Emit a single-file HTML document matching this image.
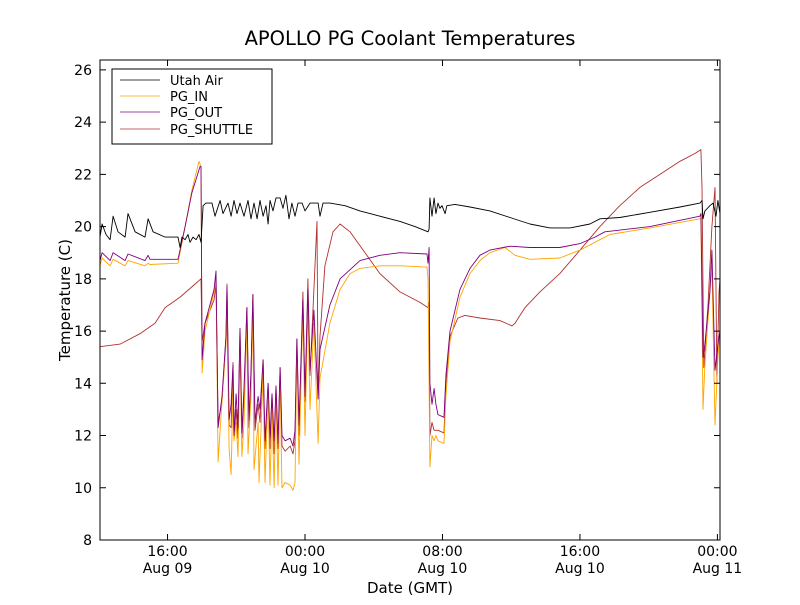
<!DOCTYPE html>
<html><head><meta charset="utf-8"><style>
body{margin:0;background:#fff;}
svg{font-family:"DejaVu Sans","Liberation Sans",sans-serif;}
</style></head><body>
<svg id="chart" width="800" height="600" viewBox="0 0 800 600">
<rect width="800" height="600" fill="#fff"/>
<text x="410" y="45" font-size="19.5" text-anchor="middle">APOLLO PG Coolant Temperatures</text>
<g id="series"></g>
<rect x="100" y="60" width="620" height="480" fill="none" stroke="#000" stroke-width="1"/>
<g id="axes"></g>
<text x="70" y="300" font-size="15" text-anchor="middle" transform="rotate(-90 70 300)">Temperature (C)</text>
<text x="410" y="593" font-size="15" text-anchor="middle">Date (GMT)</text>
<g>
<rect x="112" y="69" width="160" height="75" fill="#fff" stroke="#000" stroke-width="1"/>
<line x1="120" y1="80" x2="160" y2="80" stroke="#000" stroke-width="0.8"/>
<text x="170" y="85" font-size="13">Utah Air</text>
<line x1="120" y1="96" x2="160" y2="96" stroke="#FFA500" stroke-width="0.8"/>
<text x="170" y="101" font-size="13">PG_IN</text>
<line x1="120" y1="112" x2="160" y2="112" stroke="#800080" stroke-width="0.8"/>
<text x="170" y="117" font-size="13">PG_OUT</text>
<line x1="120" y1="129" x2="160" y2="129" stroke="#B03030" stroke-width="0.8"/>
<text x="170" y="134" font-size="13">PG_SHUTTLE</text>
</g>
</svg>
<script>
// hours relative to Aug 10 00:00 GMT
const yTicks=[8,10,12,14,16,18,20,22,24,26];
const xTicks=[-8,0,8,16,24];
const xTickTimes=["16:00","00:00","08:00","16:00","00:00"];
const xTickDates=["Aug 09","Aug 10","Aug 10","Aug 10","Aug 11"];
const utahT=[-11.93,-11.81,-11.58,-11.34,-11.17,-10.88,-10.47,-10.3,-9.89,-9.31,-9.13,-8.84,-8.14,-7.39,-7.27,-7.16,-6.98,-6.81,-6.69,-6.52,-6.34,-6.17,-6.05,-5.93,-5.76,-5.41,-5.24,-4.94,-4.77,-4.48,-4.3,-4.13,-3.96,-3.78,-3.55,-3.32,-3.14,-2.97,-2.79,-2.62,-2.44,-2.27,-2.15,-2.04,-1.86,-1.69,-1.45,-1.28,-1.11,-0.93,-0.76,-0.58,-0.41,-0.17,0,0.29,0.76,0.87,1.05,1.45,2.33,3.2,4.36,5.53,6.4,7.16,7.22,7.27,7.39,7.51,7.62,7.74,7.85,7.97,8.15,8.26,8.73,9.6,10.76,11.93,13.09,14.26,15.42,16.58,17.16,18.32,20.07,21.82,22.98,23.1,23.16,23.27,23.56,23.74,23.92,24.03,24.15];
const utahV=[19.6,20.1,19.7,19.5,20.4,19.8,19.6,20.5,19.8,19.6,20.3,19.8,19.6,19.6,19.2,19.6,19.5,19.7,19.4,19.6,19.5,19.7,19.4,20.8,20.9,20.9,20.4,21,20.5,20.9,20.4,21,20.5,20.9,20.4,21,20.3,20.9,20.3,21,20.4,20.8,20.1,21,20.6,21.1,21.1,20.7,21.2,20.3,20.9,20.4,20.9,20.9,20.6,20.9,20.9,20.4,20.9,20.9,20.8,20.6,20.4,20.2,20.0,19.8,19.9,21.1,20.4,21.1,20.5,20.9,20.7,20.8,20.5,20.8,20.85,20.75,20.6,20.35,20.1,19.95,19.95,20.1,20.3,20.35,20.55,20.75,20.9,21.0,20.3,20.6,20.8,20.9,20.4,21,20.5];
const outT=[-11.93,-11.81,-11.34,-11.17,-10.47,-10.3,-9.31,-9.13,-9.02,-7.39,-6.98,-6.58,-6.11,-6.05,-5.99,-5.82,-5.29,-5.18,-5.06,-4.83,-4.6,-4.54,-4.42,-4.3,-4.19,-4.13,-4.01,-3.9,-3.78,-3.67,-3.55,-3.38,-3.26,-3.14,-3.03,-2.91,-2.73,-2.62,-2.44,-2.33,-2.15,-2.04,-1.92,-1.8,-1.69,-1.57,-1.45,-1.34,-1.16,-0.87,-0.7,-0.58,-0.47,-0.35,-0.12,0,0.17,0.29,0.52,0.76,0.87,1.45,2.04,3.2,4.36,5.53,7.1,7.16,7.22,7.27,7.39,7.51,7.62,7.74,8.09,8.2,8.44,9.02,9.6,10.18,10.76,11.93,13.09,14.83,16,16.87,17.45,20.07,22.98,23.04,23.16,23.27,23.56,23.68,23.86,24.03,24.15];
const outV=[18.7,19.0,18.7,19.0,18.7,18.95,18.7,18.9,18.75,18.75,20.0,21.3,22.3,22.3,14.9,16.3,17.6,18.3,12.3,13.5,15.8,17.7,12.6,13.2,14.7,12,13.6,12.3,16.1,12.1,13.8,16.9,12.6,14.5,17.4,12.5,13.5,13,14.9,11.8,14,11.9,13.6,11.8,13.9,11.7,14.6,12,11.8,11.9,11.6,12.2,15.7,12.4,17.2,13.5,17.6,14.5,16.8,13.4,15.3,17,18,18.7,18.9,19.0,18.95,18.6,19.2,14,13.2,13.8,13.2,12.8,12.7,14.3,16.0,17.6,18.4,18.9,19.1,19.25,19.2,19.2,19.35,19.6,19.8,20.0,20.4,20.5,15,15.5,17.5,19.1,14.5,15.5,16];
const inT=[-11.93,-11.81,-11.34,-11.17,-10.47,-10.3,-9.31,-9.13,-9.02,-7.39,-6.98,-6.58,-6.17,-6.05,-5.99,-5.82,-5.29,-5.18,-5.06,-4.83,-4.6,-4.54,-4.42,-4.3,-4.19,-4.13,-4.01,-3.9,-3.78,-3.67,-3.55,-3.38,-3.32,-3.14,-3.03,-2.97,-2.73,-2.68,-2.44,-2.33,-2.15,-2.04,-1.92,-1.8,-1.69,-1.57,-1.45,-1.34,-1.16,-0.87,-0.7,-0.58,-0.47,-0.35,-0.12,0,0.17,0.29,0.52,0.76,0.87,1.45,2.04,2.62,3.2,4.36,5.53,7.1,7.16,7.27,7.39,7.51,7.62,7.74,8.09,8.2,8.44,9.02,9.6,10.18,10.76,11.64,12.22,13.09,14.83,16,17.16,17.74,20.07,22.98,23.04,23.16,23.27,23.56,23.68,23.86,24.03,24.15];
const inV=[18.5,18.8,18.5,18.75,18.5,18.7,18.5,18.6,18.55,18.6,20,21.4,22.5,22.3,14.4,16,17.5,18,11,13.3,15.5,16.5,11.5,10.5,13.8,11.8,12.5,11.2,15.5,11.2,12.5,16.5,11.3,13.5,17,10.7,12.5,10.2,14.4,10.2,13.6,10.1,13,10,13.5,10.1,14,10,10.2,10.1,9.9,10.2,15.3,10.9,16.8,12,17,13,16.3,11.7,14.2,16.3,17.6,18.2,18.4,18.5,18.5,18.45,18,10.8,12,11.8,12,11.8,11.7,13.5,15.6,17.3,18.2,18.7,19.0,19.2,18.9,18.75,18.8,19.1,19.5,19.7,19.95,20.3,20.3,13,14.7,17.5,18.5,12.4,15,16];
const shT=[-11.93,-10.76,-9.6,-8.73,-8.14,-7.27,-6.4,-6.05,-5.99,-5.82,-5.29,-5.18,-5.06,-4.83,-4.6,-4.54,-4.42,-4.3,-4.19,-4.13,-4.01,-3.9,-3.78,-3.67,-3.55,-3.38,-3.26,-3.14,-3.03,-2.91,-2.73,-2.62,-2.44,-2.33,-2.15,-2.04,-1.92,-1.8,-1.69,-1.57,-1.45,-1.34,-1.16,-0.87,-0.7,-0.58,-0.47,-0.35,-0.12,0,0.17,0.29,0.7,0.76,0.87,1.16,1.63,2.04,2.62,3.49,4.36,5.53,6.69,7.16,7.22,7.27,7.39,7.51,7.74,8.09,8.2,8.44,8.9,9.31,10.18,11.34,12.05,12.22,12.8,13.67,14.83,16,17.16,18.32,19.49,20.65,21.82,22.69,23.04,23.1,23.21,23.45,23.68,23.86,23.97,24.09,24.15];
const shV=[15.4,15.5,15.9,16.3,16.9,17.3,17.8,18,15.6,16.3,17.2,17.8,12.5,13.3,15.8,17.8,12.4,12.3,14.8,11.9,13,11.9,16.1,11.9,13.5,16.9,12.3,14.3,17.4,12.2,13.2,12.5,14.9,11.5,14,11.5,13.6,11.3,13.9,11.5,14.6,11.6,11.4,11.6,11.3,11.8,15.7,12,17.5,13.3,18,14.3,20.2,13.4,15.8,18.5,19.8,20.1,19.8,19,18.2,17.5,17.1,16.9,17.1,12,12.5,12.2,12.2,12.1,14,15.8,16.5,16.6,16.5,16.4,16.2,16.3,16.9,17.5,18.2,19.1,20,20.8,21.5,22,22.5,22.8,22.95,21.5,14.6,17,20,21.5,14,17.5,18];

const X0=100,X1=720,Y0=60,Y1=540,TMIN=-11.93,TMAX=24.15,VMIN=8,VMAX=26.38;
const xs=t=>X0+(t-TMIN)/(TMAX-TMIN)*(X1-X0);
const ys=v=>Y1-(v-VMIN)/(VMAX-VMIN)*(Y1-Y0);
const NS="http://www.w3.org/2000/svg";
const axes=document.getElementById('axes');
const ser=document.getElementById('series');
function mk(tag,attrs,parent){const e=document.createElementNS(NS,tag);for(const k in attrs)e.setAttribute(k,attrs[k]);parent.appendChild(e);return e;}
yTicks.forEach(v=>{
  const y=ys(v);
  const l=mk('path',{d:`M${X0} ${y}h6M${X1} ${y}h-6`,stroke:'#000','stroke-width':1},axes);
  
  
  const t=mk('text',{x:X0-8,y:y+5,'font-size':14,'text-anchor':'end'},axes);
  t.textContent=v;
  
  
});
xTicks.forEach((h,i)=>{
  const x=xs(h);
  const l=mk('path',{d:`M${x} ${Y1}v-6M${x} ${Y0}v6`,stroke:'#000','stroke-width':1},axes);
  
  
  const t=mk('text',{x:x,y:556,'font-size':14,'text-anchor':'middle'},axes);
  t.textContent=xTickTimes[i];
  
  
  const d=mk('text',{x:x,y:573,'font-size':14,'text-anchor':'middle'},axes);
  d.textContent=xTickDates[i];
  
  
});
function line(T,V,color,name){
  const d=T.map((t,i)=>(i?'L':'M')+xs(t).toFixed(1)+' '+ys(V[i]).toFixed(1)).join('');
  const p=mk('path',{d:d,fill:'none',stroke:color,'stroke-width':0.9,'stroke-linejoin':'round'},ser);
  
  
}
line(shT,shV,'#B03030','line-pg-shuttle');
line(inT,inV,'#FFA500','line-pg-in');
line(outT,outV,'#800080','line-pg-out');
line(utahT,utahV,'#000000','line-utah-air');
</script>
</body></html>
